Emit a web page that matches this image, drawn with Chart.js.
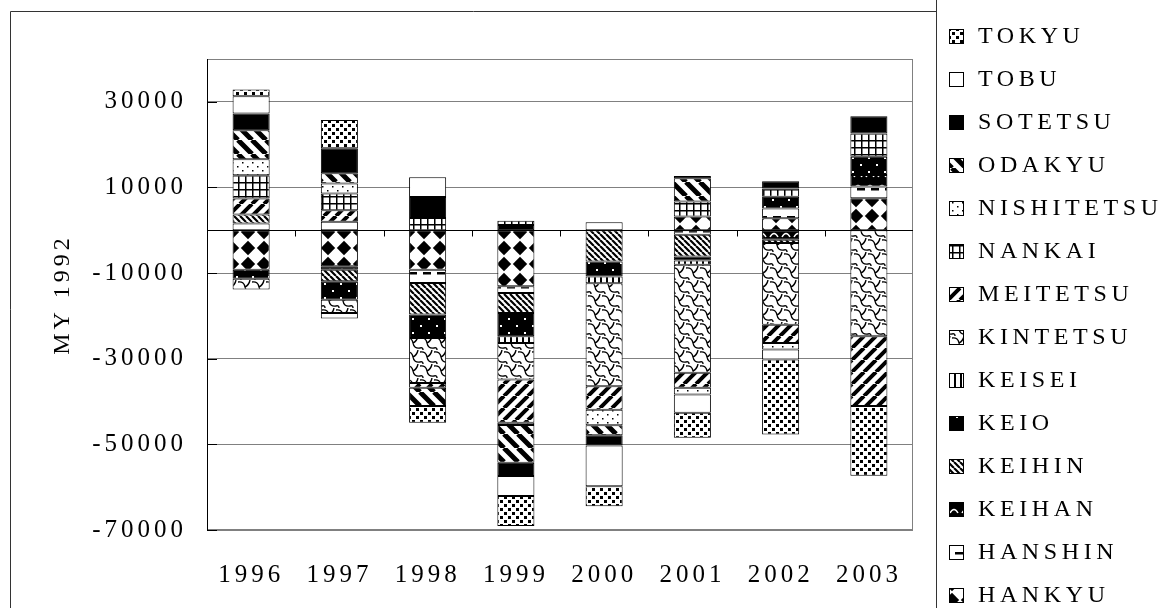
<!DOCTYPE html>
<html>
<head>
<meta charset="utf-8">
<script src="https://cdn.jsdelivr.net/npm/chart.js@4.4.1/dist/chart.umd.min.js"></script>
<style>
  html, body { margin: 0; padding: 0; background: #fff; }
  #chart-ferrovias { display: block; background: #fff; }
</style>
</head>
<body>
<canvas id="chart-ferrovias" width="1163" height="608"></canvas>
<script>
// === Dados ===
const anos = ['1996', '1997', '1998', '1999', '2000', '2001', '2002', '2003'];
const yTicks = [-70000, -50000, -30000, -10000, 10000, 30000];

// Séries na ordem de empilhamento (a legenda mostra em ordem inversa)
const hankyu     = [-9200, -8400, -9200, -13100, null, 3200, 2800, 7500];
const hanshin    = [1600, 2000, -3100, -1550, 1900, -1050, 2300, 2700];
const keihan     = [null, -800, null, 1250, null, null, -2200, 2700];
const keihin     = [2100, -2700, -7400, -4650, -7300, -5050, -800, null];
const keio       = [-2100, -4300, -5450, -5450, -3500, -950, 2700, 4250];
const keisei     = [null, null, null, -1550, -1550, -1000, null, null];
const kintetsu   = [-2550, -3100, -10500, -8550, -24100, -25250, -19050, -24750];
const meitetsu   = [3700, 2700, -1150, -10100, -5450, -3500, -4250, -16300];
const nankai     = [5450, 3900, 2850, 950, null, 3500, 1950, 5450];
const nishitetsu = [3750, 2350, null, -550, -3650, -1550, -1550, null];
const odakyu     = [6750, 2350, -4250, -8800, -2350, 5450, null, null];
const sotetsu    = [3900, 5850, 4900, -3100, -2350, 550, 1700, 4050];
const tobu       = [4050, -1300, 4650, -4650, -9550, -4250, -2350, null];
const tokyu      = [1550, 6600, -3900, -7000, -4650, -5850, -17500, -16300];

const seriesNomes = ['HANKYU', 'HANSHIN', 'KEIHAN', 'KEIHIN', 'KEIO', 'KEISEI', 'KINTETSU',
                     'MEITETSU', 'NANKAI', 'NISHITETSU', 'ODAKYU', 'SOTETSU', 'TOBU', 'TOKYU'];
const seriesValores = [hankyu, hanshin, keihan, keihin, keio, keisei, kintetsu,
                       meitetsu, nankai, nishitetsu, odakyu, sotetsu, tobu, tokyu];

const fonteSerif = 'Liberation Serif';

// Função para criar um padrão de preenchimento
function criarPadrao(w, h, desenhar) {
    const c = document.createElement('canvas');
    c.width = w;
    c.height = h;
    const p = c.getContext('2d');
    p.fillStyle = '#fff';
    p.fillRect(0, 0, w, h);
    p.fillStyle = '#000';
    p.strokeStyle = '#000';
    desenhar(p, w, h);
    return p.createPattern(c, 'repeat');
}

// Listras diagonais com cópias para fechar o ladrilho
function listras(p, s, largura, direcao) {
    p.lineWidth = largura;
    p.beginPath();
    for (let o = -s; o <= s; o += s) {
        if (direcao === 'desce') {
            p.moveTo(o, 0); p.lineTo(o + s, s);
        } else {
            p.moveTo(o, s); p.lineTo(o + s, 0);
        }
    }
    p.stroke();
}

// Função para montar todos os padrões das séries
function criarPadroes() {
    return {
        HANKYU: criarPadrao(16, 16, p => {
            p.beginPath();
            p.moveTo(8, 0.8); p.lineTo(15.2, 8); p.lineTo(8, 15.2); p.lineTo(0.8, 8);
            p.closePath();
            p.fill();
        }),
        HANSHIN: criarPadrao(14, 14, p => {
            p.fillRect(3, 6, 8, 2.5);
        }),
        KEIHAN: criarPadrao(12, 12, p => {
            p.fillRect(0, 0, 12, 12);
            p.strokeStyle = '#fff';
            p.lineWidth = 1.5;
            p.beginPath();
            p.moveTo(2, 9); p.quadraticCurveTo(6, 2, 10, 9);
            p.stroke();
        }),
        KEIHIN: criarPadrao(6, 6, p => listras(p, 6, 2.2, 'desce')),
        KEIO: criarPadrao(16, 14, p => {
            p.fillRect(0, 0, 16, 14);
            p.fillStyle = '#fff';
            p.fillRect(4, 3, 2, 2);
            p.fillRect(12, 10, 2, 2);
        }),
        KEISEI: criarPadrao(6, 4, p => {
            p.fillRect(0, 0, 2, 4);
        }),
        KINTETSU: criarPadrao(14, 14, p => {
            p.lineWidth = 1.4;
            p.beginPath();
            p.moveTo(0, 2); p.quadraticCurveTo(6, 1, 7, 7); p.quadraticCurveTo(8, 13, 14, 12);
            p.moveTo(7, 7); p.quadraticCurveTo(11, 5, 12, 0);
            p.moveTo(0, 12); p.quadraticCurveTo(3, 11, 3, 14);
            p.stroke();
        }),
        MEITETSU: criarPadrao(12, 12, p => listras(p, 12, 4, 'sobe')),
        NANKAI: criarPadrao(7, 7, p => {
            p.fillRect(0, 0, 7, 1.5);
            p.fillRect(0, 0, 1.5, 7);
        }),
        NISHITETSU: criarPadrao(10, 8, p => {
            p.fillRect(2, 2, 1.5, 1.5);
            p.fillRect(7, 6, 1.5, 1.5);
        }),
        ODAKYU: criarPadrao(14, 14, p => listras(p, 14, 5, 'desce')),
        SOTETSU: '#000',
        TOBU: '#fff',
        TOKYU: criarPadrao(8, 8, p => {
            p.fillRect(0, 0, 3, 3);
            p.fillRect(4, 4, 3, 3);
        })
    };
}

// Plugin para espaçamento das letras (fonte larga do original)
const espacamentoPlugin = {
    id: 'espacamento',
    beforeDraw(chart) {
        chart.ctx.letterSpacing = '4px';
    }
};

// Plugin para eixo zero, marcas internas e borda da área
const eixoZeroPlugin = {
    id: 'eixoZero',
    afterDatasetsDraw(chart) {
        const { ctx, chartArea, scales } = chart;
        const y0 = Math.round(scales.y.getPixelForValue(0)) + 0.5;
        const passo = (chartArea.right - chartArea.left) / anos.length;
        ctx.save();
        ctx.strokeStyle = '#808080';
        ctx.lineWidth = 1;
        ctx.strokeRect(chartArea.left + 0.5, chartArea.top + 0.5, chartArea.width - 1, chartArea.height - 1);
        ctx.strokeStyle = '#000';
        ctx.beginPath();
        ctx.moveTo(chartArea.left, y0);
        ctx.lineTo(chartArea.right, y0);
        for (let i = 1; i < anos.length; i++) {
            const x = Math.round(chartArea.left + i * passo) + 0.5;
            ctx.moveTo(x, y0);
            ctx.lineTo(x, y0 + 6);
        }
        yTicks.forEach(v => {
            const y = Math.round(scales.y.getPixelForValue(v)) + 0.5;
            ctx.moveTo(chartArea.left, y);
            ctx.lineTo(chartArea.left + 10, y);
        });
        ctx.moveTo(chartArea.left + 0.5, chartArea.top);
        ctx.lineTo(chartArea.left + 0.5, chartArea.bottom);
        ctx.stroke();
        ctx.restore();
    }
};

// Plugin para a legenda lateral e a moldura
const legendaPlugin = {
    id: 'legendaLateral',
    afterDraw(chart) {
        const ctx = chart.ctx;
        ctx.save();
        ctx.strokeStyle = '#333';
        ctx.lineWidth = 1;
        ctx.beginPath();
        ctx.moveTo(10.5, 608); ctx.lineTo(10.5, 11.5); ctx.lineTo(936.5, 11.5);
        ctx.moveTo(936.5, 0); ctx.lineTo(936.5, 608);
        ctx.stroke();

        const itens = chart.data.datasets.slice().reverse();
        ctx.font = '24px "' + fonteSerif + '"';
        ctx.letterSpacing = '4.6px';
        ctx.textBaseline = 'middle';
        ctx.textAlign = 'left';
        itens.forEach((d, k) => {
            const yc = Math.round(36 + k * 43);
            ctx.fillStyle = d.backgroundColor;
            ctx.fillRect(949, yc - 7, 15, 15);
            ctx.strokeStyle = '#000';
            ctx.strokeRect(949.5, yc - 6.5, 14, 14);
            ctx.fillStyle = '#000';
            ctx.fillText(d.label, 978, yc + 1);
        });
        ctx.restore();
    }
};

// Função para criar o gráfico de barras empilhadas
function createFerroviasChart() {
    const ctx = document.getElementById('chart-ferrovias');
    const padroes = criarPadroes();

    const datasets = seriesNomes.map((nome, i) => ({
        label: nome,
        data: seriesValores[i],
        backgroundColor: padroes[nome],
        borderColor: '#000',
        borderWidth: 1,
        borderSkipped: false,
        barPercentage: 0.42,
        categoryPercentage: 1.0
    }));

    window.ferroviasChart = new Chart(ctx, {
        type: 'bar',
        data: { labels: anos, datasets: datasets },
        plugins: [espacamentoPlugin, eixoZeroPlugin, legendaPlugin],
        options: {
            responsive: false,
            animation: false,
            devicePixelRatio: 1,
            layout: { padding: { left: 10, top: 59, right: 250, bottom: 0 } },
            plugins: {
                legend: { display: false },
                tooltip: { enabled: false }
            },
            scales: {
                x: {
                    stacked: true,
                    afterFit: scale => { scale.height = 78; },
                    grid: { display: false, drawTicks: false },
                    border: { display: false },
                    ticks: {
                        color: '#000',
                        maxRotation: 0,
                        padding: 30,
                        font: { family: fonteSerif, size: 25 }
                    }
                },
                y: {
                    stacked: true,
                    min: -70000,
                    max: 40000,
                    afterBuildTicks: axis => { axis.ticks = yTicks.map(v => ({ value: v })); },
                    afterFit: scale => { scale.width = 197; },
                    grid: { color: '#808080', drawTicks: false },
                    border: { display: false },
                    ticks: {
                        color: '#000',
                        padding: 20,
                        font: { family: fonteSerif, size: 25 },
                        callback: v => String(v)
                    },
                    title: {
                        display: true,
                        text: 'MY 1992',
                        color: '#000',
                        font: { family: fonteSerif, size: 24 },
                        padding: { top: 38, bottom: 0 }
                    }
                }
            }
        }
    });
}

createFerroviasChart();
</script>
</body>
</html>
